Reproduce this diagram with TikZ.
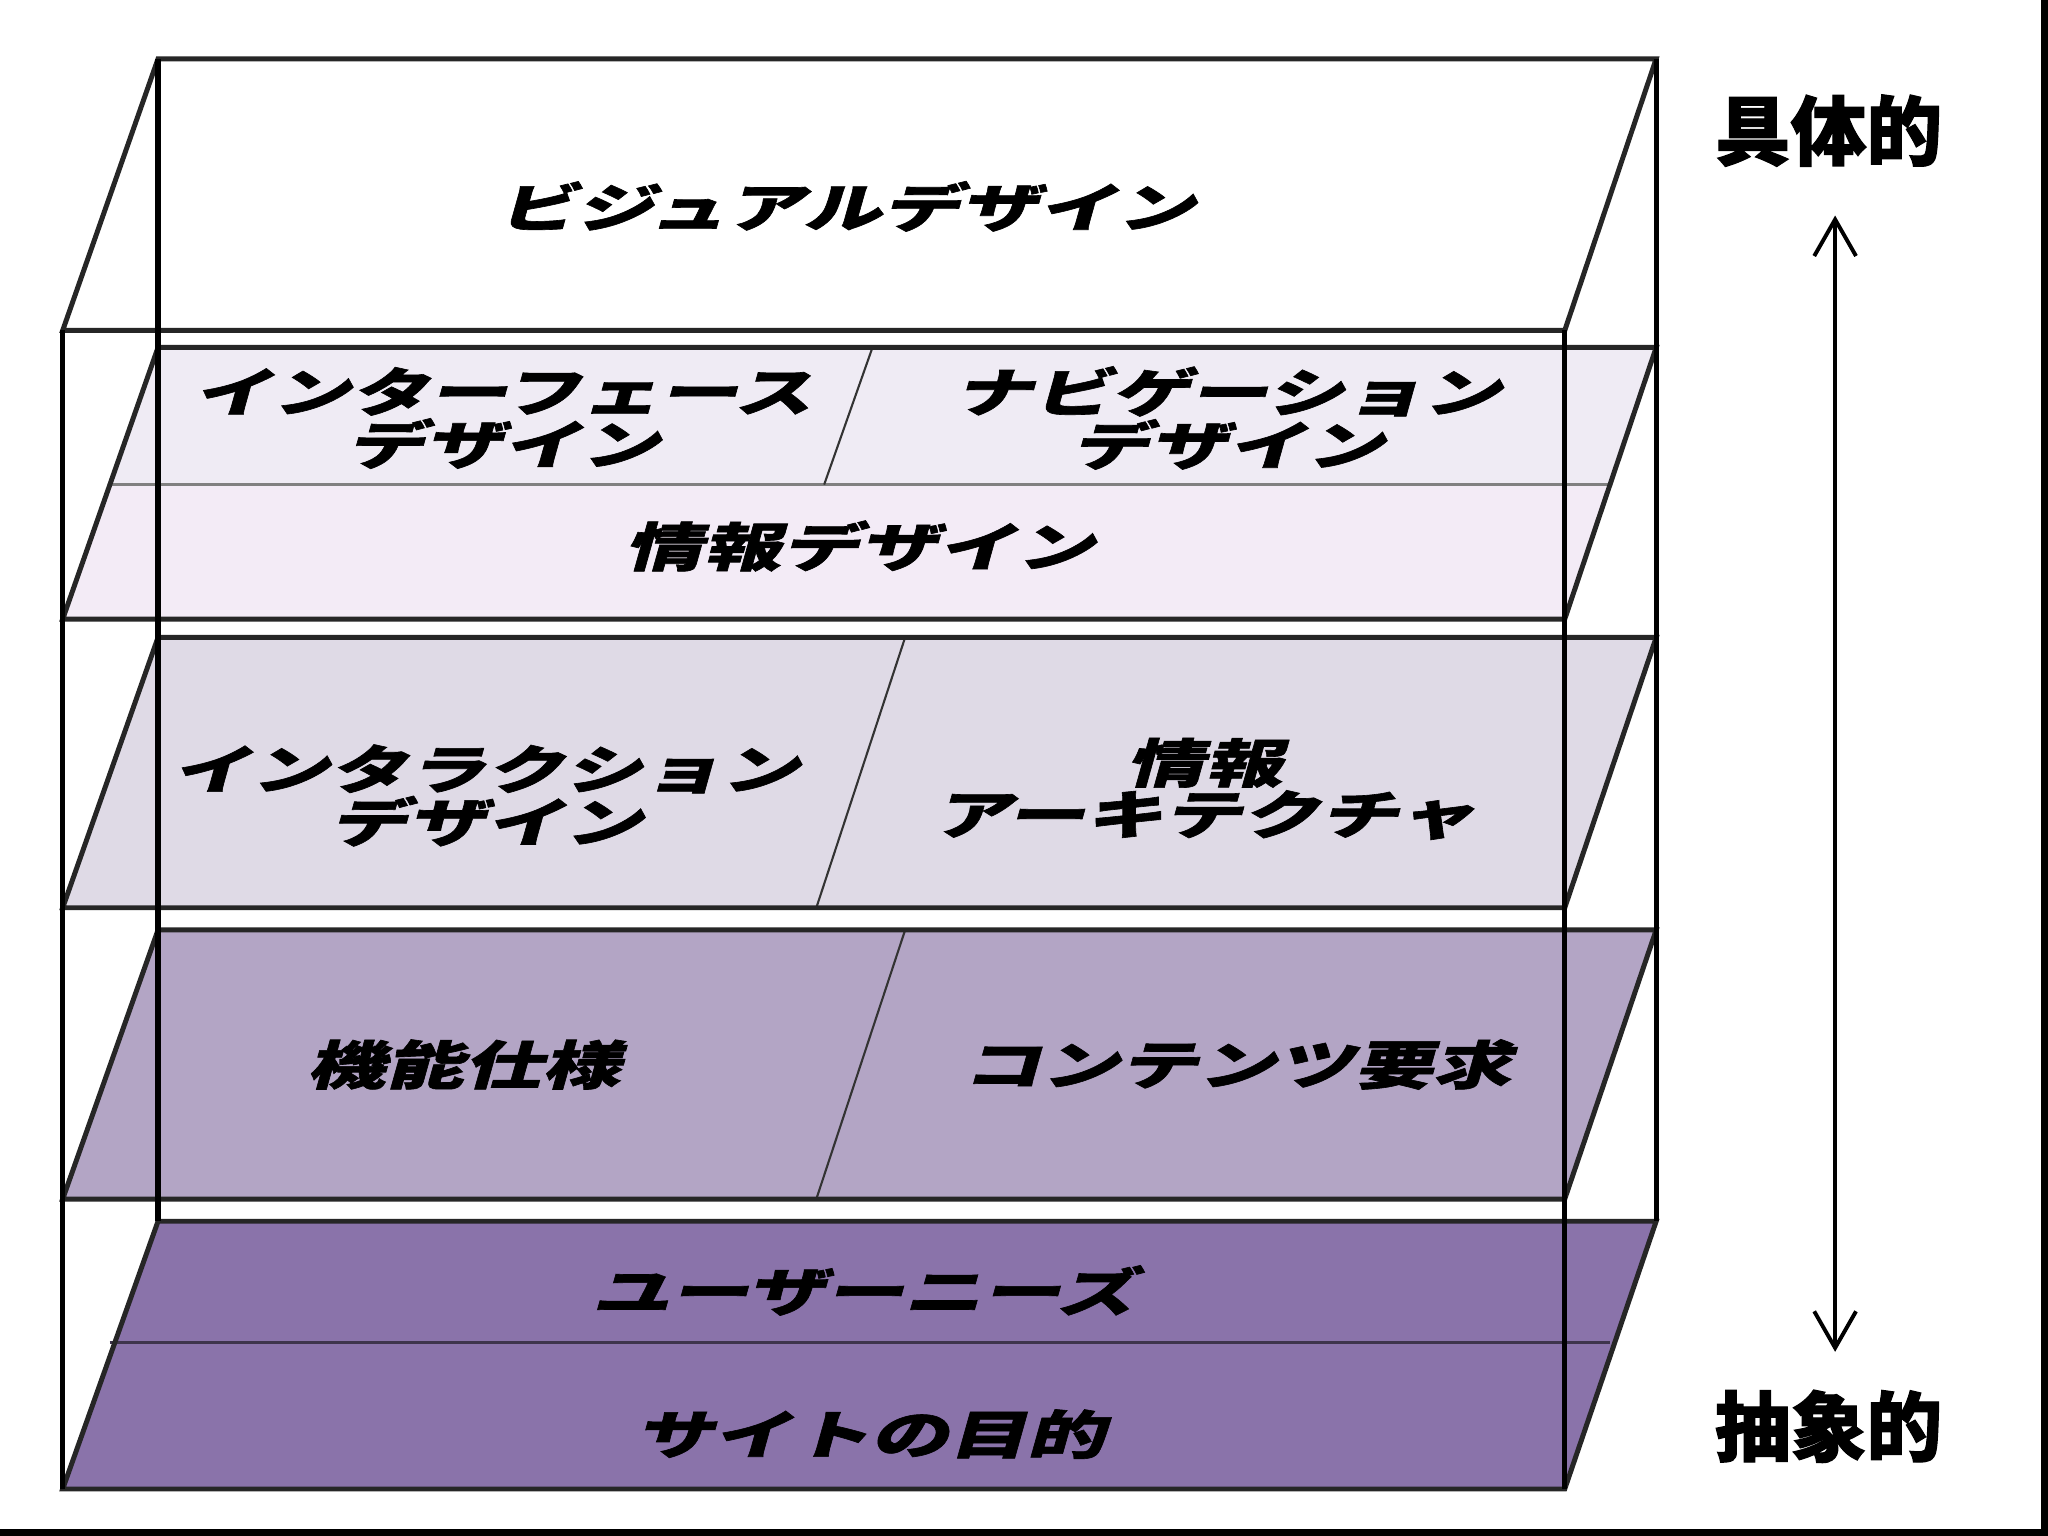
\documentclass[tikz,border=0pt]{standalone}
\usepackage{fontspec}
\newfontfamily\jpl{Noto Sans CJK JP}[FakeSlant=0.28,FakeStretch=1.5,FakeBold=1.2]
\newfontfamily\jpr{Noto Sans CJK JP}[FakeBold=1.5]
\usetikzlibrary{arrows.meta}
\definecolor{lyrA}{HTML}{EFEBF4}
\definecolor{lyrB}{HTML}{F3EBF6}
\definecolor{lyrC}{HTML}{DFDAE6}
\definecolor{lyrD}{HTML}{B3A5C5}
\definecolor{lyrE}{HTML}{8A73AA}
\newcommand\plane[3]{%
  \fill[#3] (121,#1) -- (1268,#1) -- (1198,#2) -- (48,#2) -- cycle;}
\newcommand\planeedge[2]{%
  \draw[edgeline] (121,#1) -- (1268,#1) -- (1198,#2) -- (48,#2) -- cycle;}
\begin{document}
\begin{tikzpicture}[x=0.5pt,y=-0.5pt,
  lbl/.style={font={\jpl\bfseries\fontsize{20pt}{18pt}\selectfont},align=center,inner sep=0pt,text=black},
  side/.style={font={\jpr\bfseries\fontsize{29pt}{30pt}\selectfont},inner sep=0pt,text=black},
  edgeline/.style={draw=black!85,line width=1.9pt,line join=miter},
  frameline/.style={draw=black,line width=2pt},
  midline/.style={draw=#1,line width=1pt},
  divider/.style={draw=black!80,line width=0.8pt},
  arr/.style={draw=black,line width=1.5pt,{Straight Barb[length=14pt,width=16pt,line width=1.5pt]}-{Straight Barb[length=14pt,width=16pt,line width=1.5pt]}}]
\useasboundingbox (0,0) rectangle (1568,1176);
\fill[white] (0,0) rectangle (1568,1176);
% layer fills
\plane{45}{253}{white}
\fill[lyrA] (121,266) -- (1268,266) -- (1233,371) -- (84,371) -- cycle;
\fill[lyrB] (84,371) -- (1233,371) -- (1198,474) -- (48,474) -- cycle;
\plane{488}{695}{lyrC}
\plane{712}{918}{lyrD}
\plane{935}{1140}{lyrE}
% inner lines
\draw[midline=black!50] (84,371) -- (1233,371);
\draw[midline=black!55!lyrE] (84,1028) -- (1233,1028);
\draw[divider] (668,266) -- (631,371);
\draw[divider] (693,488) -- (625,695);
\draw[divider] (693,712) -- (625,918);
% layer outlines
\planeedge{45}{253}
\planeedge{266}{474}
\planeedge{488}{695}
\planeedge{712}{918}
\planeedge{935}{1140}
% box frame
\draw[frameline] (121,45) -- (121,935);
\draw[frameline] (48,253) -- (48,1140);
\draw[frameline] (1198,253) -- (1198,1140);
\draw[frameline] (1268,45) -- (1268,935);
% labels
\node[lbl] (visual) at (648,158) {ビジュアルデザイン};
\node[lbl] (iface) at (385,320) {インターフェース\\デザイン};
\node[lbl] (navi) at (940,320) {ナビゲーション\\デザイン};
\node[lbl] (infod) at (658,418) {情報デザイン};
\node[lbl] (inter) at (372,609) {インタラクション\\デザイン};
\node[lbl] (ia) at (922,604) {情報\\アーキテクチャ};
\node[lbl] (func) at (355,815) {機能仕様};
\node[lbl] (cont) at (947,815) {コンテンツ要求};
\node[lbl] (needs) at (661,988) {ユーザーニーズ};
\node[lbl] (goal) at (666,1098) {サイトの目的};
% side scale
\node[side] (concrete) at (1400,100) {具体的};
\node[side] (abstract) at (1400,1092) {抽象的};
\coordinate (arrTop) at (1405,165);
\coordinate (arrBot) at (1405,1035);
\draw[arr] (arrBot) -- (arrTop);
% outer border (right and bottom)
\draw[draw=black,line width=2.5pt] (1565.5,0) -- (1565.5,1173.5) -- (0,1173.5);
\end{tikzpicture}
\end{document}
